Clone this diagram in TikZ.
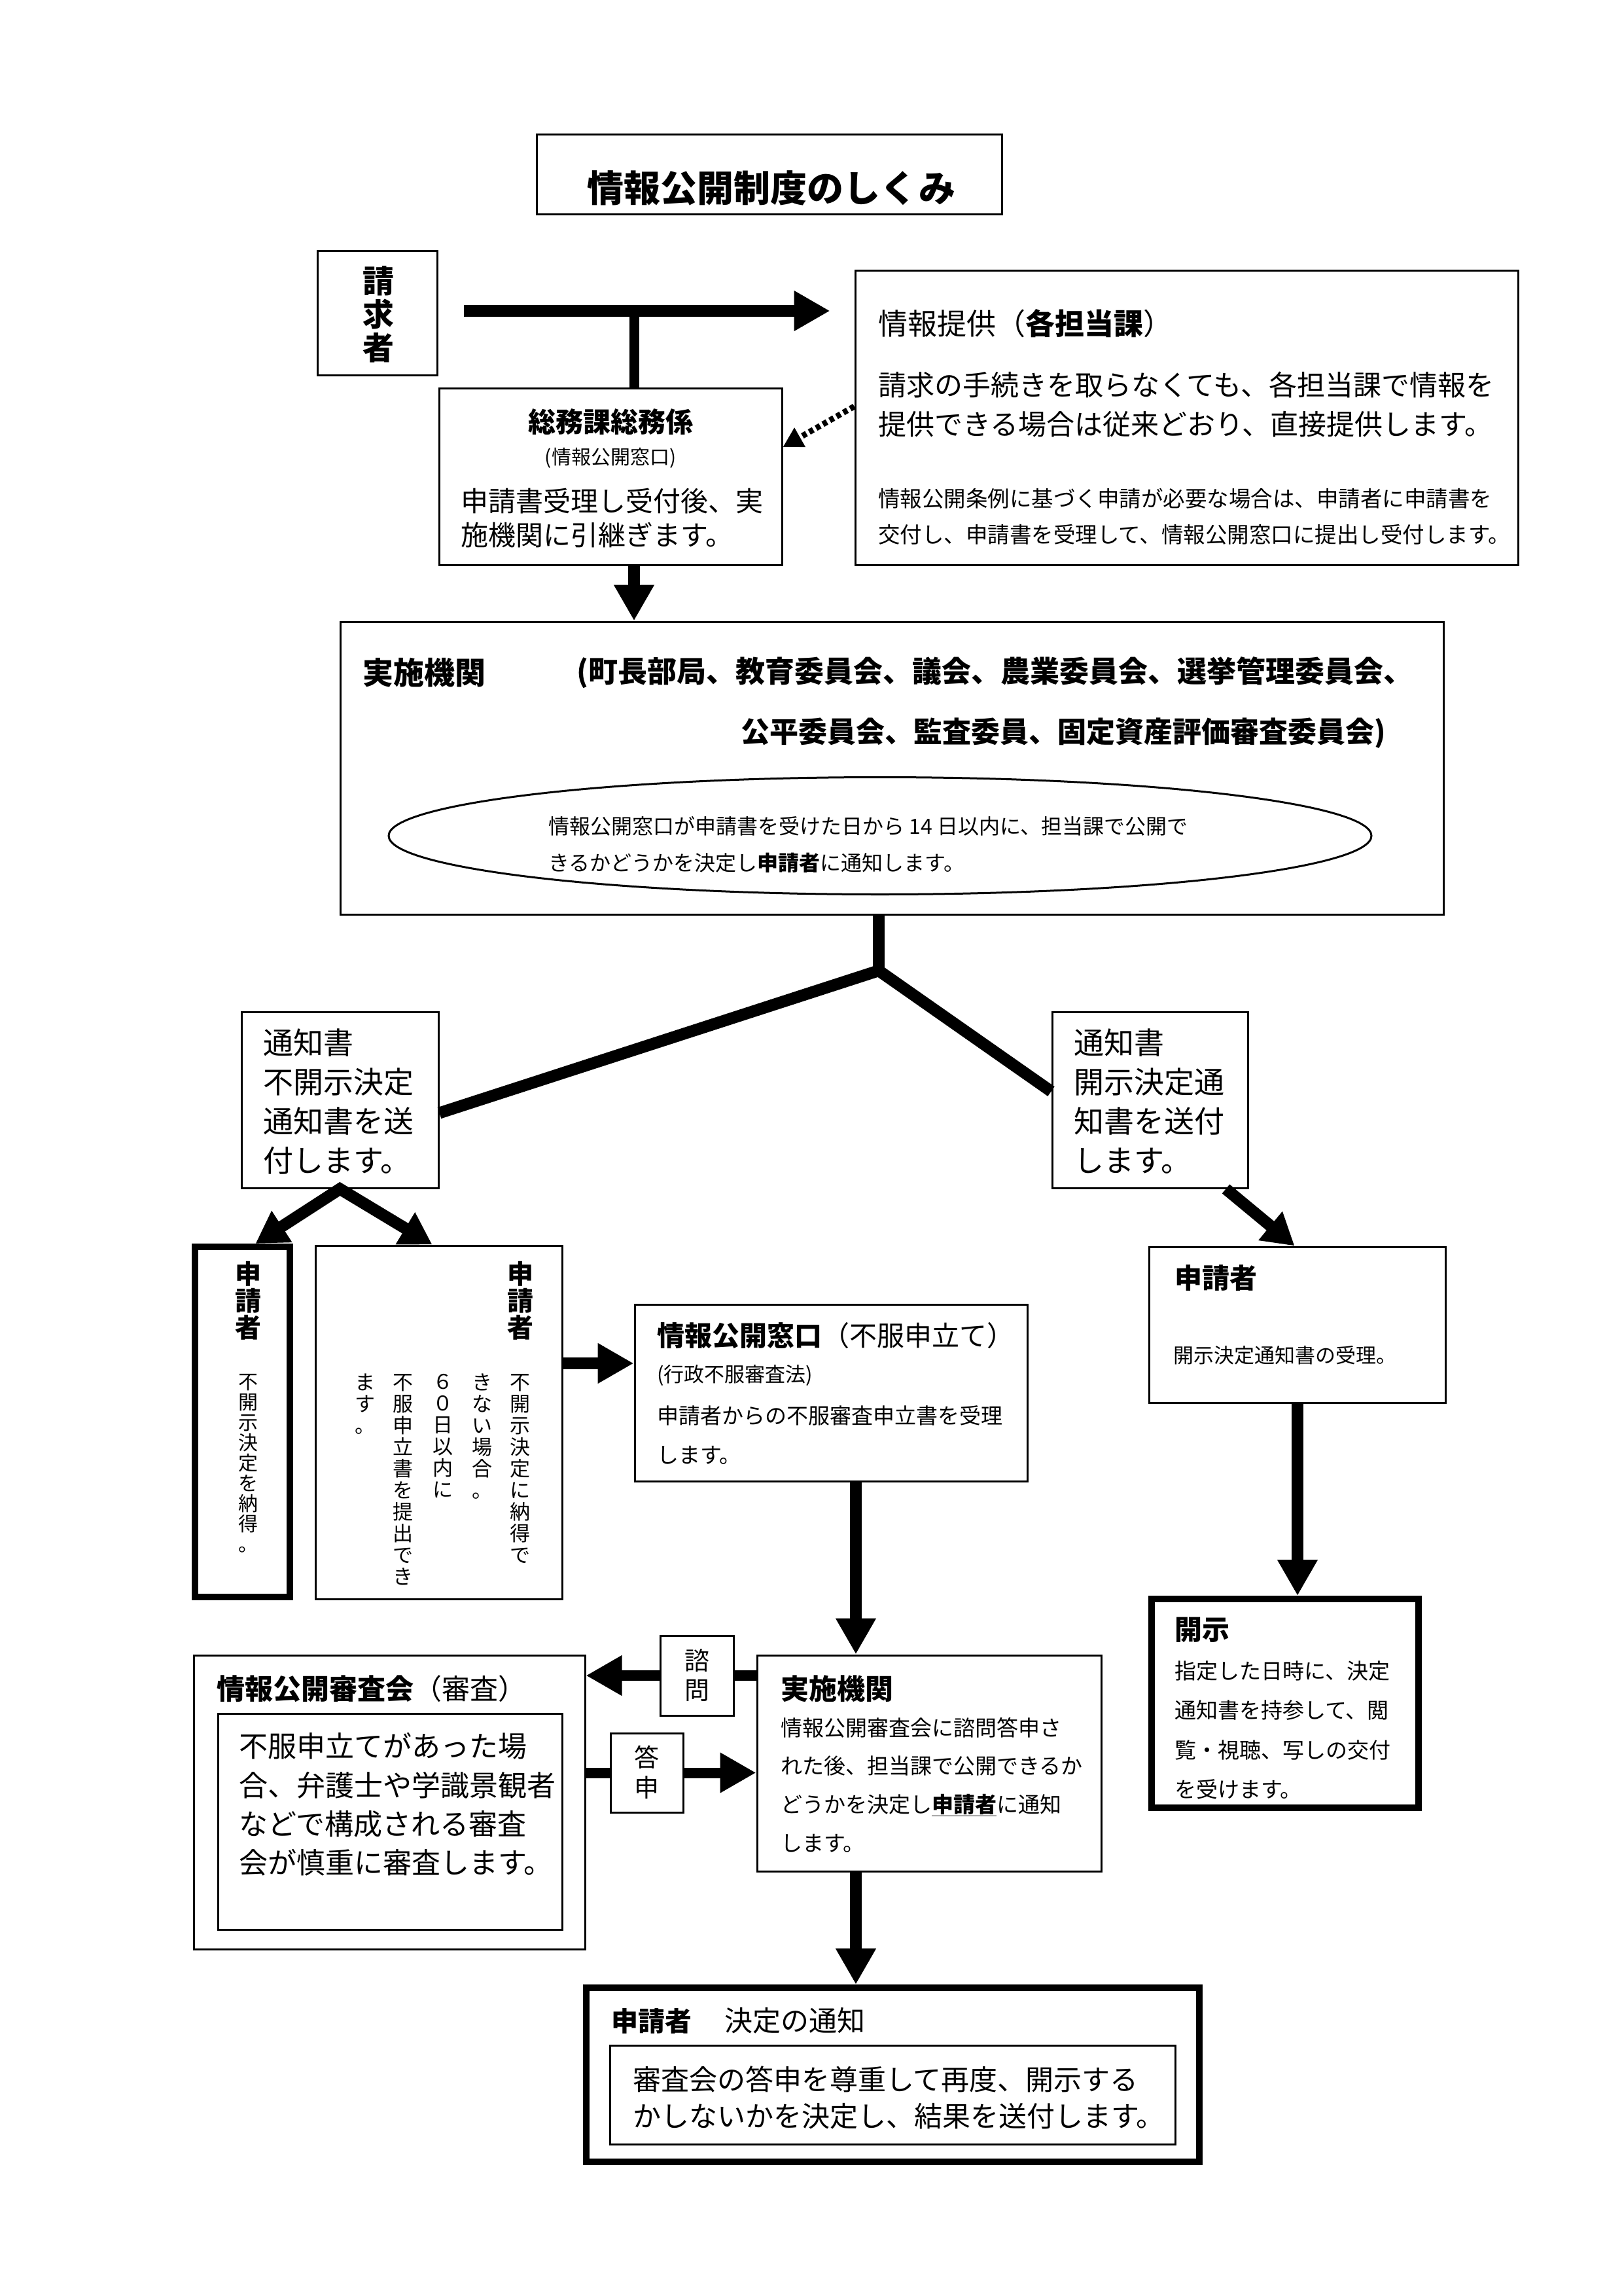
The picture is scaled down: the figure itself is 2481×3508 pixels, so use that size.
\documentclass[tikz,border=0pt]{standalone}
\usepackage{fontspec}
\setmainfont{Noto Sans CJK JP}
\usetikzlibrary{arrows.meta,shapes.geometric}
\newcommand\myfs[2]{\fontsize{#1pt}{#2pt}\selectfont\lineskiplimit=-500pt\relax}
\begin{document}
\begin{tikzpicture}[x=1pt,y=-1pt,
  box/.style={draw, line width=3pt, fill=white, inner sep=0pt},
  thickbox/.style={draw, line width=10pt, fill=white, inner sep=0pt},
  txt/.style={inner sep=0pt, anchor=west, align=left},
  vtxt/.style={inner sep=0pt, align=center},
  bigarrow/.style={line width=18pt, -{Triangle[length=55pt,width=58pt]}},
  midarrow/.style={line width=18pt, -{Triangle[length=48pt,width=54pt]}},
  thickline/.style={line width=18pt}]
\useasboundingbox (0,0) rectangle (2481,3508);
\fill[white] (0,0) rectangle (2481,3508);

% title
\node[box, minimum width=711pt, minimum height=121pt] (title) at (1175.5,266.5) {};
\node[inner sep=0pt, font={\myfs{56}{60}\bfseries}] (titletext) at (1179,287) {情報公開制度のしくみ};

% requester
\node[box, minimum width=183pt, minimum height=190pt] (seikyu) at (576.5,478) {};
\node[vtxt, font={\myfs{48}{51}\bfseries}] (seikyutext) at (578,480) {請\\求\\者};

% somu
\node[box, minimum width=524pt, minimum height=270pt] (somu) at (933,728) {};
\node[inner sep=0pt, font={\myfs{42}{50}\bfseries}] (somu1) at (933,645) {総務課総務係};
\node[inner sep=0pt, font={\myfs{30}{36}}] (somu2) at (933,700) {(情報公開窓口)};
\node[txt, font={\myfs{42}{52}}] (somu3) at (704,791) {申請書受理し受付後、実\\施機関に引継ぎます。};

% info
\node[box, minimum width=1013pt, minimum height=450pt] (info) at (1813.5,638) {};
\node[txt, font={\myfs{45}{50}}] (info1) at (1342,494) {情報提供（\textbf{各担当課}）};
\node[txt, font={\myfs{43}{60}}] (info2) at (1342,618) {請求の手続きを取らなくても、各担当課で情報を\\提供できる場合は従来どおり、直接提供します。};
\node[txt, font={\myfs{33.5}{55}}] (info3) at (1342,789.5) {情報公開条例に基づく申請が必要な場合は、申請者に申請書を\\交付し、申請書を受理して、情報公開窓口に提出し受付します。};

% jisshi 1
\node[box, minimum width=1686pt, minimum height=447pt] (jisshi1) at (1363,1173.5) {};
\node[txt, font={\myfs{47}{50}\bfseries}] (j1a) at (554,1028) {実施機関};
\node[txt, font={\myfs{45}{50}\bfseries}] (j1b) at (881,1028) {(町長部局、教育委員会、議会、農業委員会、選挙管理委員会、};
\node[inner sep=0pt, anchor=east, font={\myfs{44}{50}\bfseries}] (j1c) at (2118,1120) {公平委員会、監査委員、固定資産評価審査委員会)};
\node[draw, ellipse, line width=3pt, minimum width=1502pt, minimum height=179pt, inner sep=0pt] (oval) at (1345,1277) {};
\node[txt, font={\myfs{32}{56}}] (ovaltext) at (838,1290) {情報公開窓口が申請書を受けた日から 14 日以内に、担当課で公開で\\きるかどうかを決定し\textbf{申請者}に通知します。};

% notices
\node[box, minimum width=301pt, minimum height=269pt] (tsuchiL) at (519.5,1680.5) {};
\node[txt, font={\myfs{46}{60}}] (tLtext) at (402,1683) {通知書\\不開示決定\\通知書を送\\付します。};
\node[box, minimum width=299pt, minimum height=269pt] (tsuchiR) at (1757.5,1680.5) {};
\node[txt, font={\myfs{46}{60}}] (tRtext) at (1641,1683) {通知書\\開示決定通\\知書を送付\\します。};

% applicant 1
\node[thickbox, minimum width=145pt, minimum height=535pt] (sh1) at (370.5,2172.5) {};
\node[vtxt, anchor=north, font={\myfs{40}{41}\bfseries}] (sh1a) at (379,1927) {申\\請\\者};
\node[vtxt, anchor=north, font={\myfs{30}{31}}] (sh1b) at (379,2099) {不\\開\\示\\決\\定\\を\\納\\得\\。};

% applicant 2
\node[box, minimum width=377pt, minimum height=540pt] (sh2) at (670.5,2173) {};
\node[vtxt, anchor=north, font={\myfs{40}{41}\bfseries}] (sh2a) at (795,1927) {申\\請\\者};
\node[vtxt, anchor=north, font={\myfs{31}{33}}] (sh2c1) at (795,2099) {不\\開\\示\\決\\定\\に\\納\\得\\で};
\node[vtxt, anchor=north, font={\myfs{31}{33}}] (sh2c2) at (737,2099) {き\\な\\い\\場\\合\\。};
\node[vtxt, anchor=north, font={\myfs{31}{33}}] (sh2c3) at (677,2099) {６\\０\\日\\以\\内\\に};
\node[vtxt, anchor=north, font={\myfs{31}{33}}] (sh2c4) at (616,2099) {不\\服\\申\\立\\書\\を\\提\\出\\で\\き};
\node[vtxt, anchor=north, font={\myfs{31}{33}}] (sh2c5) at (558,2099) {ま\\す\\。};

% madoguchi
\node[box, minimum width=600pt, minimum height=270pt] (mado) at (1270,2128) {};
\node[txt, font={\myfs{42}{50}}] (m1) at (1004,2041) {\textbf{情報公開窓口}（不服申立て）};
\node[txt, font={\myfs{31}{40}}] (m2) at (1004,2101) {(行政不服審査法)};
\node[txt, font={\myfs{33}{60}}] (m3) at (1004,2193) {申請者からの不服審査申立書を受理\\します。};

% applicant 3
\node[box, minimum width=453pt, minimum height=238pt] (sh3) at (1982.5,2024) {};
\node[txt, font={\myfs{42}{50}\bfseries}] (sh3a) at (1795,1953) {申請者};
\node[txt, font={\myfs{31}{40}}] (sh3b) at (1793,2071) {開示決定通知書の受理。};

% kaiji
\node[thickbox, minimum width=408pt, minimum height=319pt] (kaiji) at (1964,2602.5) {};
\node[txt, font={\myfs{42}{50}\bfseries}] (k1) at (1795,2490) {開示};
\node[txt, font={\myfs{33}{60.3}}] (k2) at (1795,2643.5) {指定した日時に、決定\\通知書を持参して、閲\\覧・視聴、写しの交付\\を受けます。};

% shinsakai
\node[box, minimum width=598pt, minimum height=449pt] (shinsa) at (595,2753.5) {};
\node[txt, font={\myfs{43}{50}}] (s1) at (331,2580) {\textbf{情報公開審査会}（審査）};
\node[box, minimum width=526pt, minimum height=330pt] (shinsain) at (596,2783) {};
\node[txt, font={\myfs{44}{59.3}}] (s2) at (365,2757) {不服申立てがあった場\\合、弁護士や学識景観者\\などで構成される審査\\会が慎重に審査します。};

% jisshi 2
\node[box, minimum width=526pt, minimum height=330pt] (jisshi2) at (1420,2694) {};
\node[txt, font={\myfs{43}{50}\bfseries}] (j2a) at (1193,2580) {実施機関};
\node[txt, font={\myfs{33}{58.7}}] (j2b) at (1193,2727) {情報公開審査会に諮問答申さ\\れた後、担当課で公開できるか\\どうかを決定し\underline{\textbf{申請者}}に通知\\します。};

% shimon / toshin
\node[box, minimum width=112pt, minimum height=122pt] (shimon) at (1065,2560) {};
\node[vtxt, font={\myfs{38}{45}}] (shimontext) at (1065,2560) {諮\\問};
\node[box, minimum width=111pt, minimum height=121pt] (toshin) at (988.5,2708.5) {};
\node[vtxt, font={\myfs{38}{46}}] (toshintext) at (988.5,2708) {答\\申};

% final
\node[thickbox, minimum width=937pt, minimum height=266pt] (final) at (1364.5,3170) {};
\node[txt, font={\myfs{41}{50}}] (f1) at (934,3087) {\textbf{申請者}\hspace{50pt}{\myfs{43}{50}決定の通知}};
\node[box, minimum width=864pt, minimum height=151pt] (finalin) at (1364,3200.5) {};
\node[txt, font={\myfs{43}{56}}] (f2) at (967,3205) {審査会の答申を尊重して再度、開示する\\かしないかを決定し、結果を送付します。};

% connectors
\coordinate (cA) at (969,0);
\coordinate (cB) at (1308,0);
\coordinate (cC) at (1983,0);
\coordinate (r1) at (0,2083);
\coordinate (apex) at (1343,1483);

\draw[line width=15pt] ([yshift=3pt]seikyu.east -| cA) -- (somu.north -| cA);
\draw[bigarrow, shorten <=39pt, shorten >=37pt] ([yshift=3pt]seikyu.east) -- ([yshift=3pt]seikyu.east -| info.west);
\draw[line width=9pt, dash pattern=on 7pt off 5pt, -{Triangle[length=30pt,width=32pt]}] ([yshift=17pt]info.west) -- ([yshift=45pt]somu.east);
\draw[bigarrow] (somu.south -| cA) -- (jisshi1.north -| cA);

\draw[thickline] ([yshift=-20pt]tsuchiL.east) -- (apex) -- ([yshift=13pt]tsuchiR.west);
\draw[thickline] (jisshi1.south -| apex) -- (apex);

\draw[line width=18pt, {Triangle[length=48pt,width=54pt]}-{Triangle[length=48pt,width=54pt]}] ([xshift=20pt]sh1.north) -- (tsuchiL.south) -- ([xshift=180pt]sh2.north west);
\draw[midarrow] ([xshift=116pt]tsuchiR.south) -- ([xshift=-4pt]sh3.north);

\draw[bigarrow] (sh2.east |- r1) -- (mado.west |- r1);
\draw[bigarrow] (mado.south -| cB) -- (jisshi2.north -| cB);
\draw[bigarrow] (jisshi2.south -| cB) -- (final.north -| cB);
\draw[bigarrow] (sh3.south -| cC) -- (kaiji.north -| cC);

\draw[line width=16pt] (jisshi2.west |- shimon) -- (shimon.east);
\draw[bigarrow, line width=16pt] (shimon.west) -- (shinsa.east |- shimon);
\draw[line width=16pt] (shinsa.east |- toshin) -- (toshin.west);
\draw[bigarrow, line width=16pt] (toshin.east) -- (jisshi2.west |- toshin);
\end{tikzpicture}
\end{document}
